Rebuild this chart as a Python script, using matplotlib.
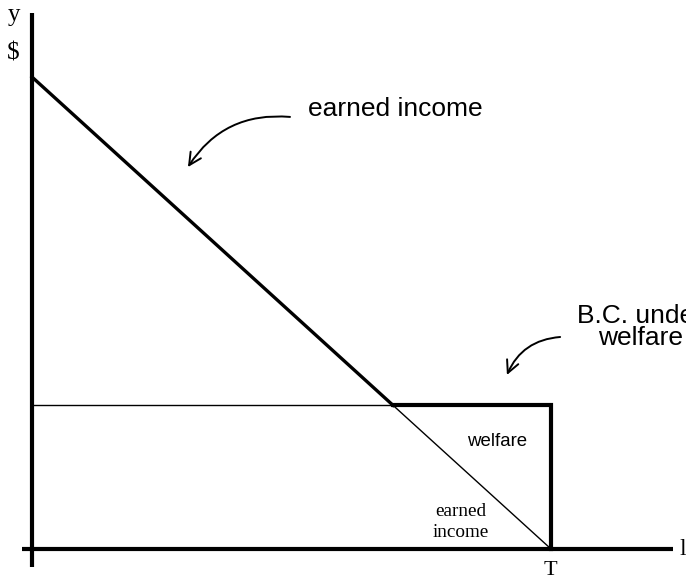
import matplotlib
matplotlib.use("Agg")
import matplotlib.pyplot as plt

# hours of leisure on x, income ($) on y
T = 24            # total hours
wage = 10         # $ per hour
welfare = 73      # welfare benefit

max_income = wage * T
kink_h = T - welfare / wage   # where earned income equals the benefit

# budget line without welfare
budget_h = [0, T]
budget_y = [max_income, 0]

fig = plt.figure(figsize=(6.86, 5.8), dpi=100)
ax = fig.add_axes([0, 0, 1, 1])
ax.set_xlim(-1.48, 30.24)
ax.set_ylim(-15.76, 279.15)
ax.axis('off')

sans = 'Liberation Sans'
serif = 'Liberation Serif'

# axes
ax.plot([0, 0], [-9.15, 272.5], color='black', lw=3, solid_capstyle='butt')
ax.plot([-0.46, 29.64], [0, 0], color='black', lw=3, solid_capstyle='butt')

# earned income line: thick part up to the kink, thin afterwards
ax.plot(budget_h[:1] + [kink_h], [budget_y[0], welfare], color='black', lw=2.4)
ax.plot([kink_h, budget_h[1]], [welfare, budget_y[1]], color='black', lw=1.0)

# welfare level line (thin part), then B.C. under welfare (thick)
ax.plot([0, kink_h], [welfare, welfare], color='black', lw=1.0)
ax.plot([kink_h, T, T], [welfare, welfare, 0], color='black', lw=3,
        solid_joinstyle='miter')

# labels on axes
ax.text(-0.83, 271.5, 'y', family=serif, fontsize=18, ha='center', va='center')
ax.text(-0.88, 252.2, '$', family=serif, fontsize=18, ha='center', va='center')
ax.text(T - 0.05, -10.8, 'T', family=serif, fontsize=16, ha='center', va='center')
ax.text(30.1, 0, 'l', family=serif, fontsize=17, ha='center', va='center')

# annotations
ax.text(16.79, 223.8, 'earned income', family=sans, fontsize=19,
        ha='center', va='center')
ax.annotate('', xy=(7.21, 194.2), xytext=(11.93, 219.7),
            arrowprops=dict(arrowstyle='->', color='black', lw=1.4,
                            connectionstyle='arc3,rad=0.3',
                            shrinkA=0, shrinkB=0, mutation_scale=22))

ax.text(28.12, 113.1, 'B.C. under\nwelfare', family=sans, fontsize=19,
        ha='center', va='center', multialignment='center', linespacing=0.9)
ax.annotate('', xy=(21.96, 88.5), xytext=(24.42, 107.8),
            arrowprops=dict(arrowstyle='->', color='black', lw=1.4,
                            connectionstyle='arc3,rad=0.3',
                            shrinkA=0, shrinkB=0, mutation_scale=22))

ax.text(21.5, 54.9, 'welfare', family=sans, fontsize=13.4,
        ha='center', va='center')
ax.text(19.84, 13.7, 'earned\nincome', family=serif, fontsize=13.8,
        ha='center', va='center', linespacing=1.25)

fig.savefig('out.png', dpi=100)
